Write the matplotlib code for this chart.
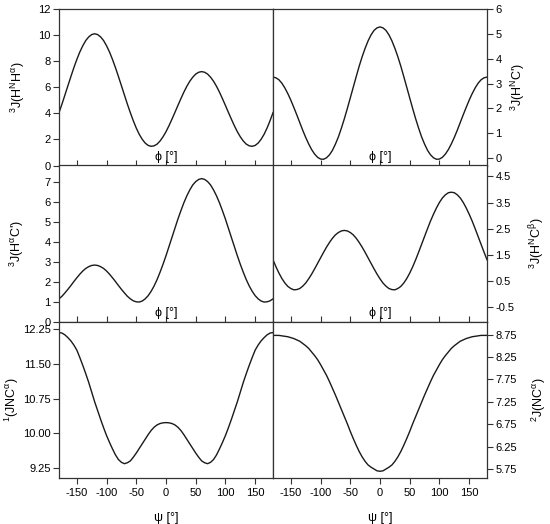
import matplotlib
matplotlib.use("Agg")
import matplotlib.pyplot as plt
from matplotlib.ticker import FormatStrFormatter, FixedLocator

plt.rcParams['font.family'] = ['Liberation Sans', 'DejaVu Sans']
plt.rcParams['mathtext.default'] = 'regular'

angles = list(range(-180, 181, 5))

# 3J(HN HA) vs phi
j_hnha = [4.05, 4.71, 5.41, 6.12, 6.82, 7.50, 8.13, 8.70, 9.18, 9.58, 9.86, 10.04, 10.10,
          10.04, 9.86, 9.58, 9.18, 8.70, 8.13, 7.50, 6.82, 6.12, 5.41, 4.71, 4.05,
          3.43, 2.87, 2.39, 2.01, 1.72, 1.54, 1.47, 1.51, 1.64, 1.88, 2.20, 2.59,
          3.05, 3.55, 4.07, 4.60, 5.12, 5.62, 6.07, 6.46, 6.77, 7.01, 7.15, 7.20,
          7.15, 7.01, 6.77, 6.46, 6.07, 5.62, 5.12, 4.60, 4.07, 3.55, 3.05, 2.59,
          2.20, 1.88, 1.64, 1.51, 1.47, 1.54, 1.72, 2.01, 2.39, 2.87, 3.43, 4.05]
# 3J(HN C') vs phi
j_hnc = [3.26, 3.23, 3.15, 3.01, 2.82, 2.59, 2.33, 2.04, 1.74, 1.43, 1.12, 0.83, 0.57,
         0.34, 0.16, 0.03, -0.04, -0.05, 0.01, 0.13, 0.31, 0.56, 0.85, 1.20, 1.58,
         1.99, 2.42, 2.85, 3.28, 3.70, 4.08, 4.42, 4.72, 4.96, 5.14, 5.24, 5.28,
         5.24, 5.14, 4.96, 4.72, 4.42, 4.08, 3.70, 3.28, 2.85, 2.42, 1.99, 1.58,
         1.20, 0.85, 0.56, 0.31, 0.13, 0.01, -0.05, -0.04, 0.03, 0.16, 0.34, 0.57,
         0.83, 1.12, 1.43, 1.74, 2.04, 2.33, 2.59, 2.82, 3.01, 3.15, 3.23, 3.26]
# 3J(HA C') vs phi
j_hac = [1.14, 1.27, 1.44, 1.62, 1.81, 2.01, 2.20, 2.38, 2.54, 2.67, 2.76, 2.82, 2.84,
         2.82, 2.76, 2.67, 2.54, 2.38, 2.20, 2.01, 1.81, 1.62, 1.44, 1.27, 1.14,
         1.04, 0.99, 0.98, 1.03, 1.14, 1.30, 1.52, 1.79, 2.11, 2.48, 2.88, 3.31,
         3.77, 4.23, 4.69, 5.15, 5.57, 5.97, 6.32, 6.62, 6.87, 7.04, 7.15, 7.19,
         7.15, 7.04, 6.87, 6.62, 6.32, 5.97, 5.57, 5.15, 4.69, 4.23, 3.77, 3.31,
         2.88, 2.48, 2.11, 1.79, 1.52, 1.30, 1.14, 1.03, 0.98, 0.99, 1.04, 1.14]
# 3J(HN CB) vs phi
j_hncb = [1.32, 1.05, 0.81, 0.60, 0.43, 0.30, 0.22, 0.17, 0.18, 0.22, 0.31, 0.43, 0.59,
          0.77, 0.97, 1.18, 1.39, 1.60, 1.80, 1.98, 2.14, 2.27, 2.36, 2.42, 2.44,
          2.42, 2.36, 2.27, 2.14, 1.98, 1.80, 1.60, 1.39, 1.18, 0.97, 0.77, 0.59,
          0.43, 0.31, 0.22, 0.18, 0.17, 0.22, 0.30, 0.43, 0.60, 0.81, 1.05, 1.32,
          1.61, 1.91, 2.21, 2.51, 2.80, 3.06, 3.30, 3.51, 3.68, 3.80, 3.88, 3.90,
          3.88, 3.80, 3.68, 3.51, 3.30, 3.06, 2.80, 2.51, 2.21, 1.91, 1.61, 1.32]
# 1J(NCA) vs psi
j_nca1 = [12.18, 12.17, 12.13, 12.07, 12.00, 11.91, 11.80, 11.64, 11.47, 11.29, 11.10, 10.89, 10.68,
          10.49, 10.30, 10.12, 9.95, 9.80, 9.66, 9.53, 9.43, 9.37, 9.34, 9.36, 9.40,
          9.48, 9.57, 9.67, 9.77, 9.87, 9.97, 10.06, 10.13, 10.18, 10.21, 10.225, 10.23,
          10.225, 10.21, 10.18, 10.13, 10.06, 9.97, 9.87, 9.77, 9.67, 9.57, 9.48, 9.40,
          9.36, 9.34, 9.37, 9.43, 9.53, 9.66, 9.80, 9.95, 10.12, 10.30, 10.49, 10.68,
          10.89, 11.10, 11.29, 11.47, 11.64, 11.80, 11.91, 12.00, 12.07, 12.13, 12.17, 12.18]
# 2J(NCA) vs psi
j_nca2 = [8.73, 8.73, 8.73, 8.72, 8.71, 8.70, 8.68, 8.66, 8.63, 8.60, 8.55, 8.50, 8.44,
          8.36, 8.28, 8.19, 8.08, 7.96, 7.84, 7.70, 7.55, 7.40, 7.24, 7.08, 6.92,
          6.76, 6.59, 6.43, 6.28, 6.14, 6.02, 5.92, 5.84, 5.79, 5.75, 5.71, 5.70,
          5.71, 5.75, 5.79, 5.84, 5.92, 6.02, 6.14, 6.28, 6.43, 6.59, 6.76, 6.92,
          7.08, 7.24, 7.40, 7.55, 7.70, 7.84, 7.96, 8.08, 8.19, 8.28, 8.36, 8.44,
          8.50, 8.55, 8.60, 8.63, 8.66, 8.68, 8.70, 8.71, 8.72, 8.73, 8.73, 8.73]

x_ticks = [-150, -100, -50, 0, 50, 100, 150]

panels = [
    # (values, row, col, ylim, yticks, fmt, ylabel, ylabel x pixel)
    (j_hnha, 0, 0, (0, 12), [0, 2, 4, 6, 8, 10, 12], '%d', r'$^3$J(H$^N$H$^{\alpha}$)', 18),
    (j_hnc, 0, 1, (-0.3, 6), [0, 1, 2, 3, 4, 5, 6], '%d', r"$^3$J(H$^N$C')", 518),
    (j_hac, 1, 0, (0, 7.85), [0, 1, 2, 3, 4, 5, 6, 7], '%d', r"$^3$J(H$^{\alpha}$C')", 17),
    (j_hncb, 1, 1, (-1.04, 4.92), [-0.5, 0.5, 1.5, 2.5, 3.5, 4.5], '%.1f', r'$^3$J(H$^N$C$^{\beta}$)', 537),
    (j_nca1, 2, 0, (9.03, 12.42), [9.25, 10.0, 10.75, 11.5, 12.25], '%.2f', r'$^1$(JNC$^{\alpha}$)', 12),
    (j_nca2, 2, 1, (5.55, 9.04), [5.75, 6.25, 6.75, 7.25, 7.75, 8.25, 8.75], '%.2f', r'$^2$J(NC$^{\alpha}$)', 539),
]

W, H = 550, 524
fig = plt.figure(figsize=(W / 100, H / 100), dpi=100)

col_x = [59, 273, 487]
row_y = [9, 165.5, 321.5, 478]
spine_col = '#333333'

for vals, r, c, ylim, yt, fmt, ylab, lx in panels:
    x0 = col_x[c] / W
    w = (col_x[c + 1] - col_x[c]) / W
    y1 = 1 - row_y[r] / H
    y0 = 1 - row_y[r + 1] / H
    ax = fig.add_axes([x0, y0, w, y1 - y0])
    ax.plot(angles, vals, color='#1a1a1a', lw=1.0)
    ax.set_xlim(-180, 180)
    ax.set_ylim(*ylim)
    ax.xaxis.set_major_locator(FixedLocator(x_ticks))
    ax.yaxis.set_major_locator(FixedLocator(yt))
    ax.yaxis.set_major_formatter(FormatStrFormatter(fmt))
    for s in ax.spines.values():
        s.set_color(spine_col)
        s.set_linewidth(0.9)
    if c == 1:
        ax.yaxis.tick_right()
    ax.tick_params(axis='y', direction='out', length=4, width=0.8, labelsize=8,
                   colors=spine_col, labelcolor='black', pad=2)
    if r < 2:
        ax.tick_params(axis='x', direction='in', length=4, width=0.8, labelbottom=False,
                       colors=spine_col)
        ax.text(0.5, 0.015, 'ϕ [°]', transform=ax.transAxes, ha='center', va='bottom',
                fontsize=9)
    else:
        ax.tick_params(axis='x', direction='out', length=4, width=0.8, labelsize=8,
                       colors=spine_col, labelcolor='black', pad=3)
        ax.set_xticklabels([str(v) for v in x_ticks])
        fig.text((col_x[c] + col_x[c + 1]) / 2 / W, 1 - 518 / H, 'ψ [°]',
                 ha='center', va='center', fontsize=9)
    yc = (row_y[r] + row_y[r + 1]) / 2
    fig.text(lx / W, 1 - yc / H, ylab, rotation=90, ha='center', va='center', fontsize=9)

fig.savefig('out.png', dpi=100)
